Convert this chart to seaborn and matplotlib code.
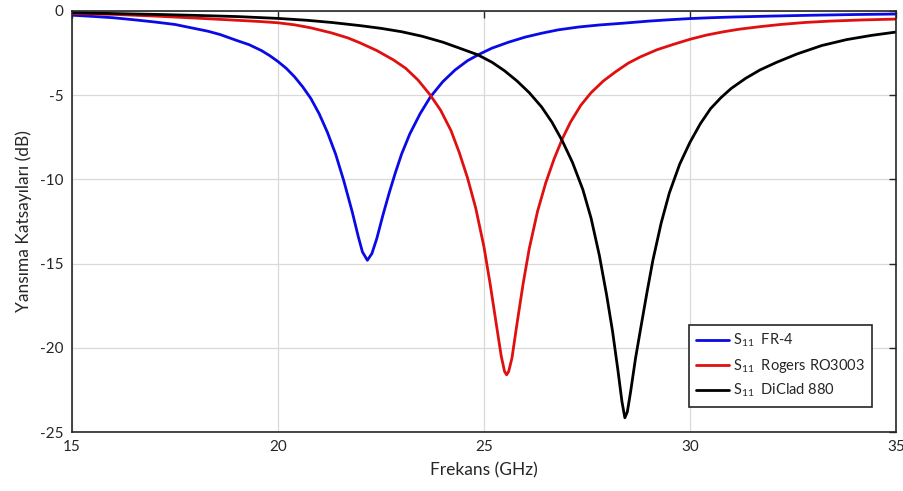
import matplotlib
matplotlib.use("Agg")
import matplotlib.pyplot as plt
import seaborn as sns
import pandas as pd

# ---- data ----
freq_fr4 = [15.0, 15.5, 16.0, 16.5, 17.0, 17.5, 18.0, 18.3, 18.6, 19.0, 19.3, 19.6, 19.8, 20.0,
            20.2, 20.4, 20.6, 20.8, 21.0, 21.2, 21.4, 21.6, 21.8, 21.95, 22.05, 22.17, 22.28,
            22.4, 22.55, 22.7, 22.85, 23.0, 23.2, 23.45, 23.7, 24.0, 24.3, 24.6, 24.9, 25.2,
            25.6, 26.0, 26.4, 26.8, 27.3, 27.8, 28.4, 29.0, 29.5, 30.0, 30.5, 31.0, 32.0,
            33.0, 34.0, 35.0]
s11_fr4 = [-0.25, -0.32, -0.4, -0.52, -0.65, -0.8, -1.05, -1.2, -1.4, -1.75, -2.0, -2.35, -2.65, -3.0,
           -3.4, -3.9, -4.5, -5.2, -6.1, -7.2, -8.5, -10.1, -11.9, -13.4, -14.3, -14.8, -14.4,
           -13.5, -12.1, -10.8, -9.6, -8.5, -7.3, -6.1, -5.1, -4.2, -3.5, -2.95, -2.55, -2.2,
           -1.85, -1.55, -1.32, -1.12, -0.95, -0.83, -0.72, -0.6, -0.52, -0.45, -0.4, -0.36, -0.3,
           -0.25, -0.21, -0.18]

freq_ro3003 = [15.0, 16.0, 17.0, 18.0, 19.0, 19.6, 20.0, 20.4, 20.8, 21.3, 21.7, 22.0, 22.4, 22.8,
               23.1, 23.4, 23.7, 23.95, 24.2, 24.4, 24.6, 24.8, 25.0, 25.15, 25.3, 25.42, 25.5,
               25.55, 25.6, 25.68, 25.8, 25.95, 26.1, 26.3, 26.5, 26.7, 26.9, 27.1, 27.35, 27.6,
               27.9, 28.2, 28.5, 28.8, 29.2, 29.6, 30.0, 30.4, 30.8, 31.2, 31.7, 32.2, 32.8,
               33.4, 34.2, 35.0]
s11_ro3003 = [-0.15, -0.2, -0.3, -0.42, -0.55, -0.63, -0.7, -0.82, -1.0, -1.3, -1.6, -1.9, -2.35, -2.9,
              -3.4, -4.1, -5.0, -5.9, -7.1, -8.4, -9.9, -11.7, -14.0, -16.2, -18.6, -20.5, -21.4,
              -21.6, -21.4, -20.6, -18.6, -16.2, -14.1, -11.9, -10.2, -8.8, -7.6, -6.6, -5.6, -4.85,
              -4.15, -3.6, -3.1, -2.72, -2.3, -1.98, -1.68, -1.43, -1.24, -1.08, -0.93, -0.8, -0.68,
              -0.6, -0.53, -0.48]

freq_diclad = [15.0, 16.0, 17.0, 18.0, 19.0, 20.0, 20.7, 21.3, 22.0, 22.5, 23.0, 23.5, 24.0, 24.4,
               24.85, 25.2, 25.5, 25.8, 26.1, 26.4, 26.65, 26.9, 27.15, 27.4, 27.6, 27.8, 27.98,
               28.12, 28.25, 28.35, 28.42, 28.48, 28.56, 28.68, 28.8, 28.95, 29.1, 29.3, 29.5,
               29.75, 30.0, 30.25, 30.5, 30.75, 31.0, 31.35, 31.7, 32.1, 32.6, 33.2, 33.8, 34.4, 35.0]
s11_diclad = [-0.1, -0.15, -0.2, -0.26, -0.33, -0.44, -0.55, -0.68, -0.87, -1.03, -1.23, -1.5, -1.85, -2.2,
              -2.6, -3.05, -3.55, -4.15, -4.85, -5.7, -6.6, -7.7, -9.0, -10.6, -12.3, -14.5, -16.9,
              -19.0, -21.3, -23.2, -24.15, -23.8, -22.6, -20.6, -18.9, -16.8, -14.8, -12.6, -10.8,
              -9.1, -7.8, -6.7, -5.8, -5.15, -4.6, -4.0, -3.5, -3.05, -2.55, -2.05, -1.7, -1.45, -1.25]

labels = [r"S$_{11}$  FR-4", r"S$_{11}$  Rogers RO3003", r"S$_{11}$  DiClad 880"]
colors = ["#0a0ae6", "#e01010", "#000000"]

x_ticks = [15, 20, 25, 30, 35]
y_ticks = [0, -5, -10, -15, -20, -25]

df = pd.concat([
    pd.DataFrame({"f": freq_fr4, "s": s11_fr4, "series": labels[0]}),
    pd.DataFrame({"f": freq_ro3003, "s": s11_ro3003, "series": labels[1]}),
    pd.DataFrame({"f": freq_diclad, "s": s11_diclad, "series": labels[2]}),
], ignore_index=True)

sns.set_style("white")
plt.rcParams["font.family"] = ["Lato", "DejaVu Sans"]
plt.rcParams["mathtext.fontset"] = "custom"
plt.rcParams["mathtext.rm"] = "Lato"
plt.rcParams["mathtext.it"] = "Lato"
plt.rcParams["axes.unicode_minus"] = False

fig = plt.figure(figsize=(9.04, 4.91), dpi=100)
ax = fig.add_axes([0.0796, 0.120, 0.9115, 0.8576])

sns.lineplot(data=df, x="f", y="s", hue="series", palette=dict(zip(labels, colors)),
             hue_order=labels, linewidth=2.0, ax=ax, sort=False, estimator=None)

ax.set_xlim(15, 35)
ax.set_ylim(-25, 0)
ax.set_xticks(x_ticks)
ax.set_yticks(y_ticks)
ax.grid(True, color="#d9d9d9", linewidth=0.9)
ax.set_axisbelow(True)
ax.tick_params(direction="in", length=5, width=1, top=True, right=True,
               labelsize=11, colors="#262626", pad=6)
for sp in ax.spines.values():
    sp.set_color("#262626")
    sp.set_linewidth(1.2)

ax.set_xlabel("Frekans (GHz)", fontsize=12.5, color="#262626", labelpad=6)
ax.set_ylabel("Yansıma Katsayıları (dB)", fontsize=12.5, color="#262626", labelpad=6)

leg = ax.legend(loc="lower right", bbox_to_anchor=(0.98, 0.043), fontsize=10.5,
                frameon=True, fancybox=False, edgecolor="#262626", handlelength=2.2,
                handletextpad=0.3, borderpad=0.5, labelspacing=0.5)
leg.get_frame().set_linewidth(1.2)
leg.get_frame().set_alpha(1)

fig.savefig("out.png", dpi=100)
